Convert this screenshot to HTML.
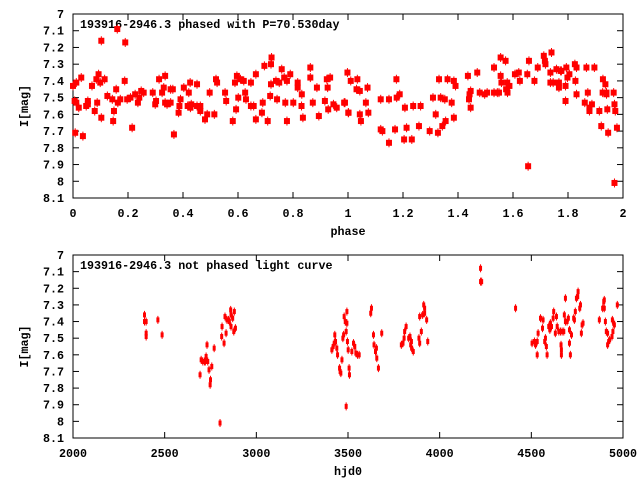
<!DOCTYPE html>
<html><head><meta charset="utf-8"><style>
html,body{margin:0;padding:0;background:#fff;}
svg{display:block;font-family:"Liberation Mono",monospace;font-weight:bold;font-size:11.7px;}
</style></head><body>
<svg id="chart" width="640" height="480" xmlns="http://www.w3.org/2000/svg"></svg>
<script>
const phaseVals=[0.000,0.012,0.030,0.006,0.012,0.021,0.008,0.036,0.048,0.054,0.054,0.069,0.079,0.085,0.088,0.093,0.099,0.103,0.103,0.115,0.125,0.143,0.149,0.146,0.157,0.161,0.163,0.172,0.188,0.190,0.197,0.209,0.215,0.226,0.236,0.241,0.248,0.257,0.290,0.299,0.302,0.313,0.324,0.330,0.335,0.335,0.342,0.355,0.355,0.363,0.367,0.384,0.387,0.391,0.403,0.421,0.426,0.417,0.427,0.430,0.451,0.451,0.463,0.463,0.480,0.488,0.497,0.514,0.520,0.524,0.553,0.557,0.581,0.589,0.593,0.596,0.601,0.609,0.621,0.626,0.629,0.647,0.647,0.657,0.665,0.665,0.690,0.687,0.696,0.708,0.717,0.720,0.722,0.720,0.738,0.742,0.750,0.759,0.768,0.772,0.778,0.778,0.790,0.801,0.817,0.817,0.831,0.832,0.836,0.863,0.863,0.872,0.887,0.894,0.916,0.923,0.926,0.928,0.935,0.947,0.959,0.989,0.998,1.001,
0.986,1.002,1.010,1.031,1.034,1.043,1.043,1.047,1.065,1.071,1.074,1.119,1.119,1.125,1.149,1.149,1.171,1.176,1.177,1.188,1.204,1.207,1.213,1.232,1.237,1.258,1.264,1.297,1.309,1.319,1.327,1.331,1.337,1.343,1.352,1.355,1.362,1.377,1.385,1.385,1.391,1.436,1.440,1.442,1.446,1.446,1.470,1.479,1.497,1.506,1.531,1.531,1.543,1.549,1.555,1.555,1.558,1.573,1.575,1.579,1.580,1.587,1.607,1.621,1.625,1.652,1.655,1.658,1.678,1.690,1.712,1.716,1.718,1.736,1.736,1.740,1.746,1.758,1.767,1.767,1.773,1.776,1.791,1.791,1.794,1.798,1.805,1.825,1.827,1.831,1.831,1.861,1.867,1.872,1.878,1.878,1.887,1.896,1.914,1.921,1.927,1.926,1.936,1.940,1.940,1.943,1.946,1.966,1.969,1.972,1.969,1.978];
const phaseMags=[7.43,7.41,7.38,7.52,7.53,7.56,7.71,7.73,7.55,7.52,7.54,7.43,7.58,7.39,7.53,7.36,7.41,7.62,7.16,7.39,7.49,7.51,7.58,7.64,7.45,7.09,7.53,7.51,7.40,7.17,7.51,7.50,7.68,7.48,7.53,7.50,7.46,7.47,7.47,7.54,7.52,7.39,7.47,7.44,7.37,7.53,7.54,7.53,7.45,7.45,7.72,7.59,7.55,7.51,7.44,7.47,7.41,7.55,7.56,7.54,7.42,7.55,7.55,7.58,7.63,7.60,7.47,7.60,7.39,7.41,7.47,7.52,7.64,7.41,7.57,7.37,7.50,7.39,7.40,7.47,7.51,7.41,7.55,7.55,7.63,7.36,7.53,7.59,7.31,7.64,7.49,7.30,7.26,7.42,7.40,7.51,7.41,7.33,7.38,7.53,7.64,7.40,7.36,7.53,7.41,7.44,7.55,7.48,7.62,7.38,7.32,7.53,7.44,7.61,7.52,7.39,7.44,7.57,7.38,7.54,7.56,7.53,7.35,7.59,
7.53,7.59,7.40,7.45,7.39,7.46,7.60,7.64,7.53,7.44,7.59,7.51,7.69,7.70,7.51,7.77,7.69,7.39,7.50,7.48,7.75,7.56,7.68,7.75,7.55,7.67,7.55,7.70,7.50,7.60,7.71,7.39,7.50,7.67,7.51,7.64,7.39,7.53,7.40,7.62,7.43,7.37,7.51,7.48,7.46,7.56,7.35,7.47,7.48,7.47,7.32,7.47,7.47,7.47,7.26,7.37,7.41,7.28,7.45,7.41,7.47,7.43,7.36,7.35,7.40,7.36,7.91,7.28,7.40,7.32,7.25,7.28,7.30,7.35,7.41,7.23,7.41,7.33,7.41,7.44,7.34,7.34,7.43,7.52,7.32,7.38,7.36,7.30,7.40,7.32,7.48,7.53,7.32,7.47,7.56,7.58,7.54,7.32,7.58,7.67,7.39,7.47,7.42,7.47,7.48,7.57,7.71,7.47,7.54,7.58,8.01,7.68];
const hjdVals=[2390,2390,2399,2399,2399,2463,2486,2693,2699,2708,2717,2726,2722,2731,2735,2742,2750,2748,2757,2770,2802,2811,2813,2824,2829,2835,2840,2848,2853,2860,2862,2862,2871,2877,2880,2886,3412,3419,3425,3428,3432,3439,3443,3454,3457,3461,3467,3472,3476,3479,3485,3490,3490,3494,3494,3497,3501,3506,3508,3521,3530,3537,3543,3552,3561,3624,3628,3639,3642,3650,3655,3657,3666,3684,3791,3800,3806,3809,3817,3831,3838,3842,3846,3847,3856,3887,3891,3891,3900,3907,3913,3918,3918,3929,3935,4223,4223,4229,4414,4504,4517,4523,4532,4532,4537,4550,4561,4564,4573,4577,4582,4586,4595,4601,4604,4610,4619,4622,4631,4637,4641,4650,4659,4668,4662,4664,4664,4677,4680,4686,4686,4695,4702,4708,4708,4713,4719,4731,4735,4740,4746,4753,4755,4764,4768,4773,4777,4782,4871,4889,4895,4898,4898,4904,4909,4916,4916,4922,4927,4940,4942,4945,4949,4953,4969];
const hjdMags=[7.36,7.40,7.40,7.47,7.49,7.39,7.48,7.72,7.63,7.64,7.64,7.61,7.64,7.54,7.64,7.69,7.75,7.78,7.67,7.56,8.01,7.49,7.43,7.53,7.37,7.47,7.39,7.39,7.40,7.33,7.36,7.43,7.38,7.46,7.34,7.44,7.57,7.55,7.53,7.48,7.52,7.56,7.60,7.68,7.70,7.71,7.63,7.50,7.48,7.37,7.40,7.46,7.91,7.41,7.34,7.52,7.57,7.68,7.72,7.58,7.53,7.55,7.59,7.60,7.60,7.35,7.32,7.48,7.54,7.58,7.56,7.62,7.68,7.47,7.54,7.53,7.50,7.46,7.43,7.50,7.49,7.54,7.52,7.56,7.58,7.50,7.53,7.37,7.46,7.36,7.30,7.32,7.35,7.39,7.52,7.08,7.16,7.16,7.32,7.53,7.52,7.54,7.52,7.60,7.47,7.38,7.44,7.39,7.52,7.50,7.55,7.60,7.43,7.45,7.41,7.43,7.38,7.34,7.47,7.37,7.43,7.46,7.46,7.46,7.54,7.57,7.60,7.46,7.36,7.26,7.40,7.40,7.38,7.53,7.45,7.60,7.48,7.38,7.39,7.34,7.26,7.25,7.22,7.32,7.30,7.47,7.42,7.41,7.39,7.32,7.28,7.27,7.32,7.40,7.46,7.47,7.54,7.52,7.51,7.49,7.39,7.46,7.41,7.42,7.30];
const magTicks=["7","7.1","7.2","7.3","7.4","7.5","7.6","7.7","7.8","7.9","8","8.1"];
const phaseTicks=["0","0.2","0.4","0.6","0.8","1","1.2","1.4","1.6","1.8","2"];
const hjdTicks=["2000","2500","3000","3500","4000","4500","5000"];

const NS="http://www.w3.org/2000/svg";
const svg=document.getElementById('chart');
function mk(tag,attrs,parent){const e=document.createElementNS(NS,tag);for(const k in attrs)e.setAttribute(k,attrs[k]);(parent||svg).appendChild(e);return e;}

function panel(cfg){
  const g=mk('g',{});
  
  
  const L=73,R=623,T=cfg.top,B=cfg.bottom;
  const sx=v=>L+(v-cfg.xmin)/(cfg.xmax-cfg.xmin)*(R-L);
  const sy=v=>T+(v-7)/(8.1-7)*(B-T);
  // ticks
  magTicks.forEach(t=>{const y=sy(parseFloat(t));
    mk('line',{x1:L,y1:y,x2:L+6,y2:y,stroke:'#000'},g);
    mk('line',{x1:R,y1:y,x2:R-6,y2:y,stroke:'#000'},g);
    const tx=mk('text',{x:64,y:y+4,'text-anchor':'end',fill:'#000'},g);tx.textContent=t;
    
    
  });
  cfg.xticks.forEach(t=>{const x=sx(parseFloat(t));
    mk('line',{x1:x,y1:B,x2:x,y2:B-6,stroke:'#000'},g);
    mk('line',{x1:x,y1:T,x2:x,y2:T+6,stroke:'#000'},g);
    const tx=mk('text',{x:x,y:B+19,'text-anchor':'middle',fill:'#000'},g);tx.textContent=t;
    
    
  });
  const fr=mk('rect',{x:L,y:T,width:R-L,height:B-T,fill:'none',stroke:'#000','stroke-width':1},g);
  
  
  const ti=mk('text',{x:80,y:T+14,fill:'#000'},g);ti.textContent=cfg.title;
  
  
  const xt=mk('text',{x:(L+R)/2,y:B+37,'text-anchor':'middle',fill:'#000'},g);xt.textContent=cfg.xlabel;
  
  
  const yc=(T+B)/2;
  const yt=mk('text',{x:28,y:yc,'text-anchor':'middle',fill:'#000',transform:'rotate(-90 28 '+yc+')'},g);yt.textContent='I[mag]';
  
  
  const pts=mk('g',{fill:'#ff0000',stroke:'none'},g);
  
  
  cfg.xs.forEach((v,i)=>{const x=sx(v),y=sy(cfg.ys[i]);
    const p=mk('g',{},pts);
    
    
    mk('line',{x1:x,y1:y-cfg.eb,x2:x,y2:y+cfg.eb,stroke:'#ff0000','stroke-width':1},p);
    mk('rect',{x:x-cfg.w/2,y:y-cfg.h/2,width:cfg.w,height:cfg.h},p);
  });
}
panel({name:'phased-panel',top:14,bottom:198,xmin:0,xmax:2,xticks:phaseTicks,xs:phaseVals,ys:phaseMags,title:'193916-2946.3 phased with P=70.530day',xlabel:'phase',w:6,h:6,eb:4.5});
panel({name:'unphased-panel',top:255,bottom:438,xmin:2000,xmax:5000,xticks:hjdTicks,xs:hjdVals,ys:hjdMags,title:'193916-2946.3 not phased light curve',xlabel:'hjd0',w:3,h:5,eb:4});
</script>
</body></html>
